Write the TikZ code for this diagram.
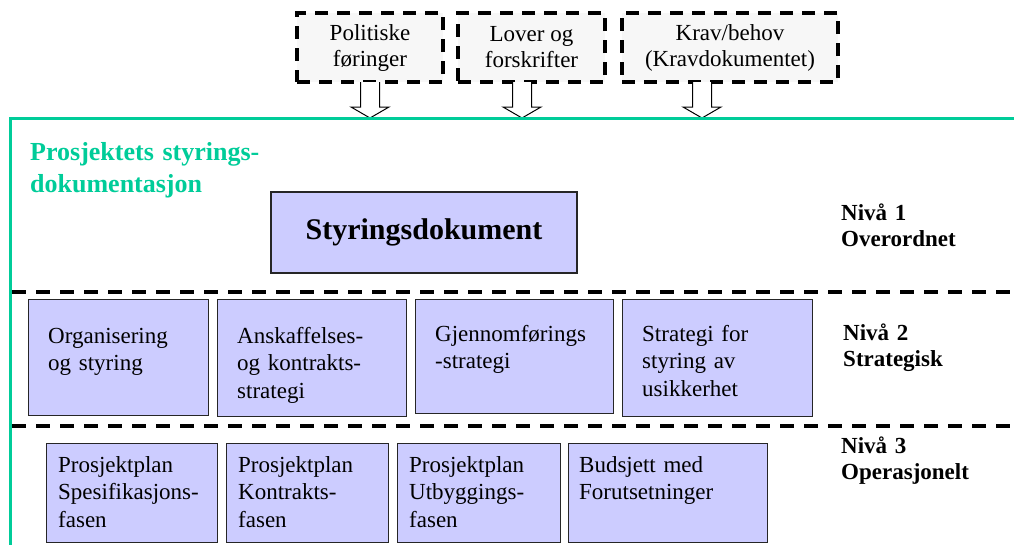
\documentclass[tikz,border=0pt]{standalone}
\usepackage{fontspec}
\setmainfont{Liberation Serif}
\usepackage{tikz}
\definecolor{frameGreen}{RGB}{0,204,153}
\definecolor{boxBlue}{RGB}{204,204,255}
\definecolor{inputGray}{RGB}{247,247,247}
\tikzset{
    input/.style={draw=black, fill=inputGray, line width=3.5pt,
        dash pattern=on 13pt off 9pt, inner sep=0pt, minimum height=69pt,
        align=center, font=\fontsize{23}{26}\selectfont},
    hollow/.style={draw=black, fill=white, line width=1pt, line join=miter},
    frame/.style={draw=frameGreen, line width=3pt},
    level/.style={draw=black, line width=4pt, dash pattern=on 14pt off 10pt},
    docbox/.style={draw=black!85, fill=boxBlue, line width=1.2pt, inner sep=0pt,
        anchor=north west},
    doctext/.style={anchor=base west, inner sep=0pt, text width=175pt,
        align=left, font=\fontsize{23}{27.5}\selectfont},
    tier/.style={anchor=base west, inner sep=0pt, text width=170pt,
        align=left, font=\bfseries\fontsize{23}{26.5}\selectfont}
}
\begin{document}
\begin{tikzpicture}[x=1pt, y=-1pt]
\clip (0,0) rectangle (1014,544);
\useasboundingbox (0,0) rectangle (1014,544);
\node[input, minimum width=146pt] (polit) at (370,47.5) {Politiske\\føringer};
\node[input, minimum width=147pt] (lover) at (531.5,47.5) {Lover og\\forskrifter};
\node[input, minimum width=216pt] (krav) at (730,47.5) {Krav/behov\\(Kravdokumentet)};
\foreach \x in {370,522,702}
  \draw[style={hollow}] (\x-9.5,82) -- (\x-9.5,107) -- (\x-19,107) -- (\x,118)
    -- (\x+19,107) -- (\x+9.5,107) -- (\x+9.5,82);
\draw[style={frame}] (10,560) -- (10,118) -- (1030,118);
\node[anchor=base west, inner sep=0pt, text width=300pt, align=left, text=frameGreen,
  font=\bfseries\fontsize{26}{32}\selectfont] (title) at (30,160)
  {Prosjektets styrings-\\dokumentasjon};
\node[draw=black!85, fill=boxBlue, line width=1.2pt, minimum width=306pt,
  minimum height=81pt, font=\bfseries\fontsize{30}{34}\selectfont] (styr) at (424,232.5)
  {Styringsdokument};
\node[tier] (niva1) at (841,220) {Nivå 1\\Overordnet};
\draw[style={level}] (12,292) -- (1030,292);
\node[docbox, minimum width=180pt, minimum height=116pt] (org) at (28,299) {};
\node[docbox, minimum width=189pt, minimum height=117pt] (ansk) at (217,299) {};
\node[docbox, minimum width=198pt, minimum height=114pt] (gjen) at (415,299) {};
\node[docbox, minimum width=190pt, minimum height=117pt] (usik) at (622,299) {};
\node[doctext] (org-t) at (48,343) {Organisering\\og styring};
\node[doctext] (ansk-t) at (237,343) {Anskaffelses-\\og kontrakts-\\strategi};
\node[doctext] (gjen-t) at (435,341) {Gjennomførings\\-strategi};
\node[doctext] (usik-t) at (642,341) {Strategi for\\styring av\\usikkerhet};
\node[tier] (niva2) at (843,340) {Nivå 2\\Strategisk};
\draw[style={level}] (12,426) -- (1030,426);
\node[docbox, minimum width=171pt, minimum height=99pt] (spes) at (46,443) {};
\node[docbox, minimum width=162pt, minimum height=99pt] (kontr) at (226,443) {};
\node[docbox, minimum width=163pt, minimum height=99pt] (utbyg) at (397,443) {};
\node[docbox, minimum width=199pt, minimum height=99pt] (buds) at (568,443) {};
\node[doctext] (spes-t) at (58,472) {Prosjektplan\\Spesifikasjons-\\fasen};
\node[doctext] (kontr-t) at (238,472) {Prosjektplan\\Kontrakts-\\fasen};
\node[doctext] (utbyg-t) at (409,472) {Prosjektplan\\Utbyggings-\\fasen};
\node[doctext] (buds-t) at (579,472) {Budsjett med\\Forutsetninger};
\node[tier] (niva3) at (841,453) {Nivå 3\\Operasjonelt};
\end{tikzpicture}
\end{document}
